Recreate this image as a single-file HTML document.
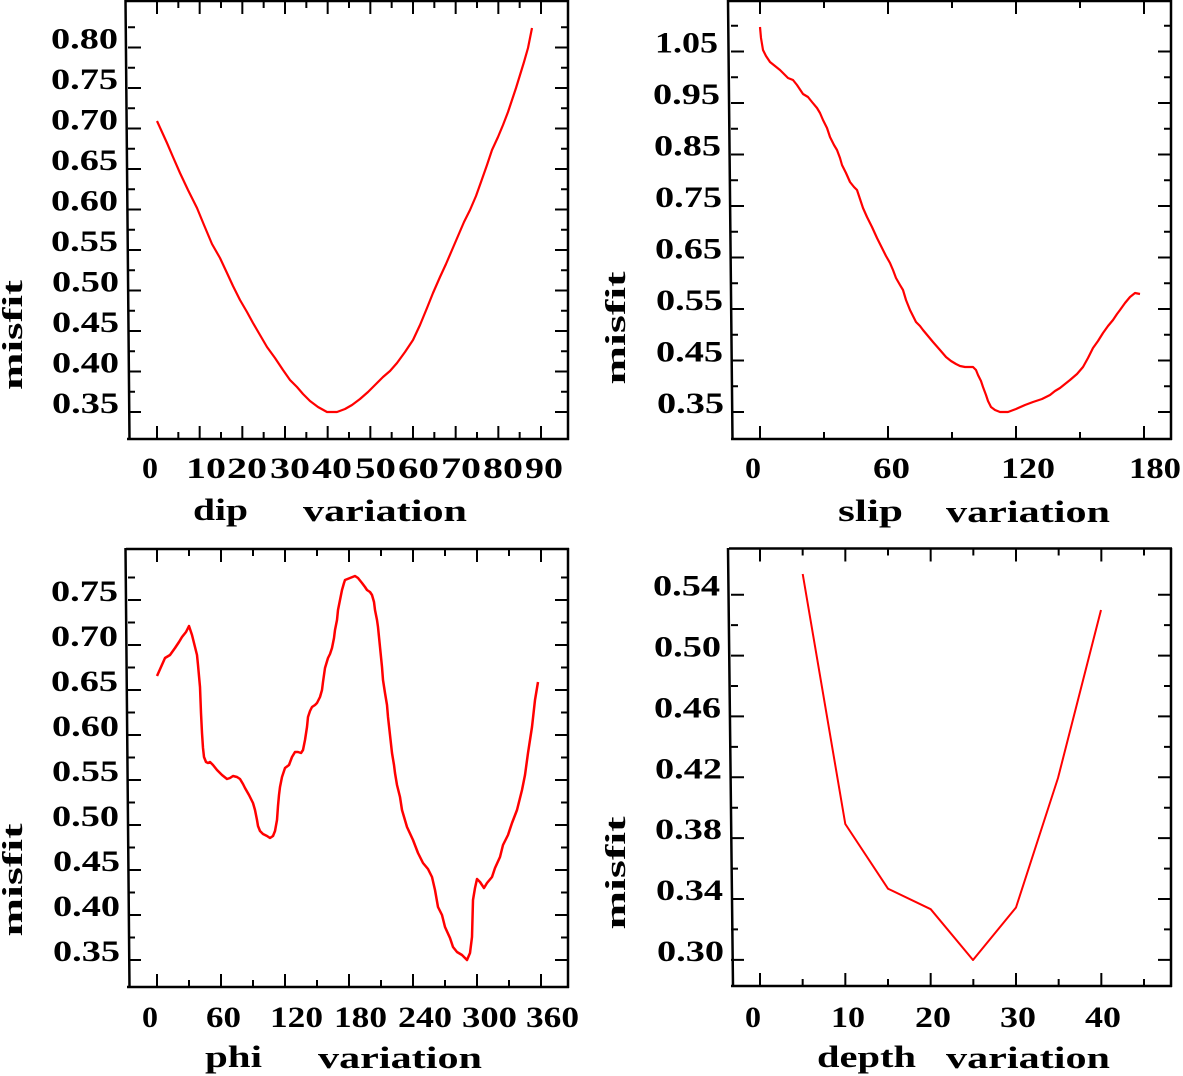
<!DOCTYPE html>
<html><head><meta charset="utf-8"><style>html,body{margin:0;padding:0;background:#fff}svg{display:block}</style></head>
<body>
<svg width="1183" height="1076" viewBox="0 0 1183 1076" xmlns="http://www.w3.org/2000/svg">
<rect width="1183" height="1076" fill="#fff"/>
<g fill="none" stroke="#000">
<g stroke-width="2.5">
<path d="M126 1H569M568 0V440M127 439H569M125.5 0L129.5 439.5"/>
<path d="M729 1H1172M1171 0V440M731 439H1172M728 0L732.5 439.5"/>
<path d="M126 549H569M568 548V988M127 987H569M125.5 548L129.5 987.5"/>
<path d="M729 548.5H1172M1171 548V987M731 986H1172M728 548L733 986.5"/>
</g>
<line x1="156" y1="432.5" x2="543" y2="432.5" stroke-width="13" stroke-dasharray="2 40.667"/>
<line x1="177.33" y1="435.5" x2="521" y2="435.5" stroke-width="7" stroke-dasharray="2 40.667"/>
<line x1="156" y1="7.5" x2="543" y2="7.5" stroke-width="13" stroke-dasharray="2 40.667"/>
<line x1="177.33" y1="4.5" x2="521" y2="4.5" stroke-width="7" stroke-dasharray="2 40.667"/>
<line x1="134.5" y1="46.5" x2="134.5" y2="413" stroke-width="13" stroke-dasharray="2 38.5"/>
<line x1="131.5" y1="26.25" x2="131.5" y2="393" stroke-width="7" stroke-dasharray="2 38.5"/>
<line x1="561.5" y1="46.5" x2="561.5" y2="413" stroke-width="13" stroke-dasharray="2 38.5"/>
<line x1="564.5" y1="26.25" x2="564.5" y2="393" stroke-width="7" stroke-dasharray="2 38.5"/>
<line x1="759" y1="432.5" x2="1146" y2="432.5" stroke-width="13" stroke-dasharray="2 126"/>
<line x1="823" y1="435.5" x2="1082" y2="435.5" stroke-width="7" stroke-dasharray="2 126"/>
<line x1="759" y1="7.5" x2="1146" y2="7.5" stroke-width="13" stroke-dasharray="2 126"/>
<line x1="823" y1="4.5" x2="1082" y2="4.5" stroke-width="7" stroke-dasharray="2 126"/>
<line x1="737.5" y1="50.5" x2="737.5" y2="413" stroke-width="13" stroke-dasharray="2 49.5"/>
<line x1="734.5" y1="24.75" x2="734.5" y2="388" stroke-width="7" stroke-dasharray="2 49.5"/>
<line x1="1164.5" y1="50.5" x2="1164.5" y2="413" stroke-width="13" stroke-dasharray="2 49.5"/>
<line x1="1167.5" y1="24.75" x2="1167.5" y2="388" stroke-width="7" stroke-dasharray="2 49.5"/>
<line x1="156" y1="980.5" x2="543" y2="980.5" stroke-width="13" stroke-dasharray="2 62"/>
<line x1="188" y1="983.5" x2="511" y2="983.5" stroke-width="7" stroke-dasharray="2 62"/>
<line x1="156" y1="555.5" x2="543" y2="555.5" stroke-width="13" stroke-dasharray="2 62"/>
<line x1="188" y1="552.5" x2="511" y2="552.5" stroke-width="7" stroke-dasharray="2 62"/>
<line x1="134.5" y1="599" x2="134.5" y2="961" stroke-width="13" stroke-dasharray="2 43"/>
<line x1="131.5" y1="576.5" x2="131.5" y2="939" stroke-width="7" stroke-dasharray="2 43"/>
<line x1="561.5" y1="599" x2="561.5" y2="961" stroke-width="13" stroke-dasharray="2 43"/>
<line x1="564.5" y1="576.5" x2="564.5" y2="939" stroke-width="7" stroke-dasharray="2 43"/>
<line x1="759" y1="979.5" x2="1103" y2="979.5" stroke-width="13" stroke-dasharray="2 83.333"/>
<line x1="801.67" y1="982.5" x2="1146" y2="982.5" stroke-width="7" stroke-dasharray="2 83.333"/>
<line x1="759" y1="555" x2="1103" y2="555" stroke-width="13" stroke-dasharray="2 83.333"/>
<line x1="801.67" y1="552" x2="1146" y2="552" stroke-width="7" stroke-dasharray="2 83.333"/>
<line x1="737.5" y1="593.7" x2="737.5" y2="961" stroke-width="13" stroke-dasharray="2 58.867"/>
<line x1="734.5" y1="624.1" x2="734.5" y2="931" stroke-width="7" stroke-dasharray="2 58.867"/>
<line x1="1164.5" y1="593.7" x2="1164.5" y2="961" stroke-width="13" stroke-dasharray="2 58.867"/>
<line x1="1167.5" y1="624.1" x2="1167.5" y2="931" stroke-width="7" stroke-dasharray="2 58.867"/>
</g>

<g fill="none" stroke="#f00" stroke-width="2.2" stroke-linejoin="round">
<polyline points="157,121 162,132 167,143 173,157 180,173 188,190 197,208 204,225 212,244 220,258 227,273 233,286 240,300 247,312 253,323 260,335 267,347 275,358 283,370 290,380 297,387 303,394 310,401 318,407 327,412 337,412 345,409 352,405 360,399 368,392 376,384 383,377 390,371 397,363 405,352 413,340 420,325 427,308 433,293 440,277 446,264 452,250 458,236 464,222 470,210 476,196 481,182 487,165 492,150 498,137 503,125 508,112 512,100 516,88 520,75 524,62 528,48 532,28"/>
<polyline points="760,27 761,38 763,50 766,56 770,62 775,66 780,70 788,78 793,80 797,85 803,94 808,97 812,102 817,108 820,113 823,120 827,128 830,137 834,145 837,150 840,158 842,165 846,173 850,182 854,187 857,190 860,199 863,208 867,217 872,227 877,238 882,248 886,256 890,263 893,270 896,278 900,285 903,290 906,300 910,310 913,316 916,322 920,326 923,330 928,336 933,342 940,350 946,357 951,361 956,364 960,366 965,367 973,367 976,370 978,375 981,381 983,387 986,395 988,401 991,407 995,410 1000,412 1008,412 1016,409 1025,405 1033,402 1042,399 1050,395 1055,391 1060,388 1065,384 1070,380 1077,374 1083,367 1088,358 1093,348 1098,341 1103,333 1108,326 1113,320 1117,314 1120,310 1125,303 1130,297 1135,293 1140,294"/>
<polyline stroke-width="2.5" points="157,676 161,667 165,658 170,655 175,648 179,642 182,637 186,632 189,626 192,635 195,647 197,655 198,665 200,687 201,713 202,733 203,748 204,757 206,762 208,763 210,762 213,765 217,770 222,775 227,779 230,778 233,776 237,777 240,779 243,784 245,788 249,795 253,803 255,810 257,820 258,826 260,831 263,834 267,836 270,838 273,836 275,831 277,820 278,806 279,795 280,787 282,777 285,768 289,765 292,757 295,752 298,752 301,753 303,750 305,740 307,727 308,717 310,711 312,707 315,705 317,703 320,697 322,690 323,682 325,668 328,658 330,654 332,648 334,638 335,630 337,620 338,610 340,600 342,590 344,583 345,580 350,578 355,576 358,578 362,583 365,587 367,590 370,592 372,595 374,602 375,610 377,620 378,627 379,637 380,647 382,667 383,680 385,693 387,705 388,717 390,735 392,753 394,765 395,773 397,785 400,797 402,810 407,827 413,840 418,853 423,863 428,869 432,877 435,890 438,907 442,915 445,927 450,938 453,947 457,952 462,955 467,960 470,953 472,937 473,900 475,888 477,879 480,882 484,888 487,883 492,877 495,868 500,857 503,845 508,835 512,823 517,810 522,790 525,775 528,753 530,740 532,727 535,700 537,688 538,682"/>
<polyline stroke-width="2" points="802.7,574 845.3,824 888,888.7 930.7,909.2 973,960 1016,907.5 1058,778 1101,610"/>
</g>

<g font-family="'Liberation Serif', 'DejaVu Serif', serif" font-weight="bold" font-size="30" fill="#000">
<text x="51" y="48.5" textLength="67" lengthAdjust="spacingAndGlyphs">0.80</text>
<text x="51" y="89" textLength="67" lengthAdjust="spacingAndGlyphs">0.75</text>
<text x="51" y="129.5" textLength="67" lengthAdjust="spacingAndGlyphs">0.70</text>
<text x="51" y="170" textLength="67" lengthAdjust="spacingAndGlyphs">0.65</text>
<text x="51" y="210.5" textLength="67" lengthAdjust="spacingAndGlyphs">0.60</text>
<text x="51" y="251" textLength="67" lengthAdjust="spacingAndGlyphs">0.55</text>
<text x="52" y="291.5" textLength="67" lengthAdjust="spacingAndGlyphs">0.50</text>
<text x="52" y="332" textLength="67" lengthAdjust="spacingAndGlyphs">0.45</text>
<text x="52" y="372.5" textLength="67" lengthAdjust="spacingAndGlyphs">0.40</text>
<text x="52" y="413" textLength="67" lengthAdjust="spacingAndGlyphs">0.35</text>
<text x="655" y="52.5" textLength="63" lengthAdjust="spacingAndGlyphs">1.05</text>
<text x="653" y="104" textLength="67" lengthAdjust="spacingAndGlyphs">0.95</text>
<text x="654" y="155.5" textLength="67" lengthAdjust="spacingAndGlyphs">0.85</text>
<text x="655" y="207" textLength="67" lengthAdjust="spacingAndGlyphs">0.75</text>
<text x="655" y="258.5" textLength="67" lengthAdjust="spacingAndGlyphs">0.65</text>
<text x="656" y="310" textLength="67" lengthAdjust="spacingAndGlyphs">0.55</text>
<text x="656" y="361.5" textLength="67" lengthAdjust="spacingAndGlyphs">0.45</text>
<text x="657" y="413" textLength="67" lengthAdjust="spacingAndGlyphs">0.35</text>
<text x="51" y="601" textLength="67" lengthAdjust="spacingAndGlyphs">0.75</text>
<text x="51" y="646" textLength="67" lengthAdjust="spacingAndGlyphs">0.70</text>
<text x="51" y="691" textLength="67" lengthAdjust="spacingAndGlyphs">0.65</text>
<text x="52" y="736" textLength="67" lengthAdjust="spacingAndGlyphs">0.60</text>
<text x="52" y="781" textLength="67" lengthAdjust="spacingAndGlyphs">0.55</text>
<text x="52" y="826" textLength="67" lengthAdjust="spacingAndGlyphs">0.50</text>
<text x="53" y="871" textLength="67" lengthAdjust="spacingAndGlyphs">0.45</text>
<text x="53" y="916" textLength="67" lengthAdjust="spacingAndGlyphs">0.40</text>
<text x="53" y="961" textLength="67" lengthAdjust="spacingAndGlyphs">0.35</text>
<text x="653" y="595.7" textLength="67" lengthAdjust="spacingAndGlyphs">0.54</text>
<text x="654" y="656.6" textLength="67" lengthAdjust="spacingAndGlyphs">0.50</text>
<text x="654" y="717.4" textLength="67" lengthAdjust="spacingAndGlyphs">0.46</text>
<text x="655" y="778.3" textLength="67" lengthAdjust="spacingAndGlyphs">0.42</text>
<text x="655" y="839.2" textLength="67" lengthAdjust="spacingAndGlyphs">0.38</text>
<text x="656" y="900.1" textLength="67" lengthAdjust="spacingAndGlyphs">0.34</text>
<text x="657" y="960.9" textLength="67" lengthAdjust="spacingAndGlyphs">0.30</text>

<text x="142" y="478" textLength="16" lengthAdjust="spacingAndGlyphs">0</text>
<text x="186" y="478" textLength="40" lengthAdjust="spacingAndGlyphs">10</text>
<text x="227" y="478" textLength="40" lengthAdjust="spacingAndGlyphs">20</text>
<text x="270" y="478" textLength="40" lengthAdjust="spacingAndGlyphs">30</text>
<text x="312" y="478" textLength="40" lengthAdjust="spacingAndGlyphs">40</text>
<text x="355" y="478" textLength="41" lengthAdjust="spacingAndGlyphs">50</text>
<text x="398" y="478" textLength="41" lengthAdjust="spacingAndGlyphs">60</text>
<text x="441" y="478" textLength="40" lengthAdjust="spacingAndGlyphs">70</text>
<text x="483" y="478" textLength="40" lengthAdjust="spacingAndGlyphs">80</text>
<text x="525" y="478" textLength="38" lengthAdjust="spacingAndGlyphs">90</text>
<text x="745" y="478" textLength="16" lengthAdjust="spacingAndGlyphs">0</text>
<text x="873" y="478" textLength="37" lengthAdjust="spacingAndGlyphs">60</text>
<text x="1001" y="478" textLength="54" lengthAdjust="spacingAndGlyphs">120</text>
<text x="1129" y="478" textLength="52" lengthAdjust="spacingAndGlyphs">180</text>
<text x="142" y="1027" textLength="16" lengthAdjust="spacingAndGlyphs">0</text>
<text x="206" y="1027" textLength="35" lengthAdjust="spacingAndGlyphs">60</text>
<text x="270" y="1027" textLength="53" lengthAdjust="spacingAndGlyphs">120</text>
<text x="334" y="1027" textLength="53" lengthAdjust="spacingAndGlyphs">180</text>
<text x="398" y="1027" textLength="54" lengthAdjust="spacingAndGlyphs">240</text>
<text x="462" y="1027" textLength="55" lengthAdjust="spacingAndGlyphs">300</text>
<text x="526" y="1027" textLength="53" lengthAdjust="spacingAndGlyphs">360</text>
<text x="745" y="1027" textLength="16" lengthAdjust="spacingAndGlyphs">0</text>
<text x="831" y="1027" textLength="34" lengthAdjust="spacingAndGlyphs">10</text>
<text x="915" y="1027" textLength="36" lengthAdjust="spacingAndGlyphs">20</text>
<text x="1000" y="1027" textLength="36" lengthAdjust="spacingAndGlyphs">30</text>
<text x="1085" y="1027" textLength="36" lengthAdjust="spacingAndGlyphs">40</text>

<g font-size="31">
<text x="193" y="520" textLength="55" lengthAdjust="spacingAndGlyphs">dip</text>
<text x="303" y="521" textLength="164" lengthAdjust="spacingAndGlyphs">variation</text>
<text x="838" y="521" textLength="65" lengthAdjust="spacingAndGlyphs">slip</text>
<text x="946" y="522" textLength="164" lengthAdjust="spacingAndGlyphs">variation</text>
<text x="205" y="1067" textLength="57" lengthAdjust="spacingAndGlyphs">phi</text>
<text x="318" y="1068" textLength="164" lengthAdjust="spacingAndGlyphs">variation</text>
<text x="817" y="1067" textLength="99" lengthAdjust="spacingAndGlyphs">depth</text>
<text x="946" y="1068" textLength="164" lengthAdjust="spacingAndGlyphs">variation</text>
</g>
<g font-size="28" text-anchor="middle">
<text transform="translate(22,335) rotate(-90)" textLength="110" lengthAdjust="spacingAndGlyphs">misfit</text>
<text transform="translate(625,328) rotate(-90)" textLength="113" lengthAdjust="spacingAndGlyphs">misfit</text>
<text transform="translate(22,880) rotate(-90)" textLength="113" lengthAdjust="spacingAndGlyphs">misfit</text>
<text transform="translate(625,873) rotate(-90)" textLength="113" lengthAdjust="spacingAndGlyphs">misfit</text>
</g>
</g>
</svg>
</body></html>
